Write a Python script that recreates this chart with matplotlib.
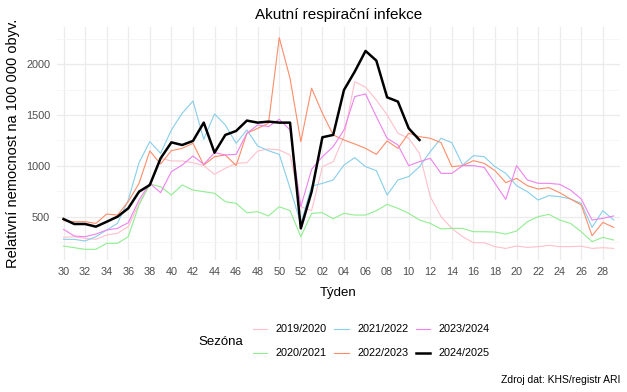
import matplotlib.pyplot as plt
from matplotlib.lines import Line2D

plt.rcParams["font.family"] = ["Liberation Sans", "DejaVu Sans"]

weeks = [f"{w:02d}" for w in list(range(30, 53)) + list(range(1, 30))]

s2019 = [297, 303, 287, 277, 320, 336, 402, 631, 812, 1074, 1048, 1048, 1031, 1002, 917, 976,
         1025, 1031, 1146, 1166, 1156, 1107, 598, 560, 992, 1041, 1287, 1828, 1773, 1648, 1500,
         1320, 1271, 1123, 697, 500, 385, 303, 244, 244, 205, 188, 211, 198, 205, 218, 205, 205,
         211, 188, 195, 188]
s2020 = [211, 195, 179, 179, 238, 238, 303, 615, 821, 795, 713, 812, 762, 746, 730, 648,
         631, 539, 549, 507, 598, 559, 303, 533, 539, 480, 533, 516, 516, 559, 621,
         582, 533, 467, 434, 379, 385, 385, 352, 352, 349, 329, 359, 451, 500, 523, 467, 434,
         352, 254, 297, 270]
s2021 = [277, 277, 261, 303, 369, 434, 664, 1031, 1238, 1123, 1353, 1517, 1638, 1261, 1510, 1402,
         1222, 1353, 1195, 1149, 1113, 780, 430, 800, 828, 861, 1008, 1081, 992, 953, 713,
         861, 894, 992, 1140, 1271, 1228, 1008, 1100, 1090, 992, 926, 805, 746, 664, 707, 697, 674,
         631, 395, 559, 467]
s2022 = [460, 451, 451, 434, 526, 516, 648, 828, 1146, 1018, 1149, 1172, 1222, 1008, 1090, 1107,
         1002, 1320, 1369, 1418, 2261, 1861, 1238, 1763, 1517, 1304, 1254, 1215, 1172, 1113, 1245,
         1172, 1320, 1287, 1271, 1228, 992, 1002, 1051, 1025, 953, 835, 877, 805, 772, 785, 736, 674,
         615, 313, 444, 395]
s2023 = [375, 310, 303, 329, 369, 385, 441, 664, 828, 736, 943, 1008, 1097, 1015, 1130, 1107,
         1113, 1320, 1402, 1386, 1458, 1353, 598, 966, 1090, 1189, 1353, 1681, 1707, 1484, 1271,
         1205, 1002, 1041, 1074, 926, 926, 1002, 1002, 985, 828, 670, 1002, 861, 828, 828, 818, 762,
         674, 467, 484, 507]
s2024 = [477, 428, 428, 402, 450, 500, 582, 746, 812, 1074, 1231, 1205, 1245, 1425, 1130, 1304,
         1343, 1445, 1425, 1435, 1425, 1425, 385, 746, 1281, 1304, 1746, 1927, 2130, 2035, 1674,
         1632, 1369, 1254]

seasons = ["2019/2020", "2020/2021", "2021/2022", "2022/2023", "2023/2024", "2024/2025"]
series = [s2019, s2020, s2021, s2022, s2023, s2024]
colors = ["#FFC0CB", "#90EE90", "#87CEEB", "#FF8C69", "#EE82EE", "black"]
widths = [0.8, 0.8, 0.8, 0.8, 0.8, 1.8]

fig = plt.figure(figsize=(6.27, 3.92), dpi=100)
ax = fig.add_axes([0.091, 0.337, 0.898, 0.594])

for vals, col, lw in zip(series, colors, widths):
    ax.plot(range(len(vals)), vals, color=col, linewidth=lw, zorder=3 if col == "black" else 2)

ax.set_xlim(-0.6, len(weeks) - 1 + 0.6)
ax.set_ylim(75, 2365)
ax.set_xticks(range(0, len(weeks), 2))
ax.set_xticklabels(weeks[::2])
ax.set_yticks([500, 1000, 1500, 2000])
ax.set_yticks([250, 750, 1250, 1750, 2250], minor=True)
ax.grid(True, which="major", color="#EBEBEB", linewidth=0.9)
ax.grid(True, which="minor", axis="y", color="#F3F3F3", linewidth=0.5)
ax.set_axisbelow(True)
for sp in ax.spines.values():
    sp.set_visible(False)
ax.tick_params(which="both", length=0, labelsize=7.8, labelcolor="#4D4D4D", pad=5)

ax.set_title("Akutní respirační infekce", fontsize=11, pad=6)
ax.set_xlabel("Týden", fontsize=9.5, labelpad=7)
ax.set_ylabel("Relativní nemocnost na 100 000 obyv.", fontsize=10.5, labelpad=4)

handles = [Line2D([], [], color=c, linewidth=lw) for c, lw in zip(colors, widths)]
fig.legend(handles, seasons, ncol=3, loc="center left", bbox_to_anchor=(0.388, 0.129),
           frameon=False, fontsize=7.8, handlelength=1.3, handletextpad=0.8,
           columnspacing=0.7, labelspacing=1.3)
fig.text(0.316, 0.128, "Sezóna", fontsize=9.5, va="center")
fig.text(0.989, 0.031, "Zdroj dat: KHS/registr ARI", fontsize=7.5, ha="right", va="center")

fig.savefig("out.png", dpi=100)
